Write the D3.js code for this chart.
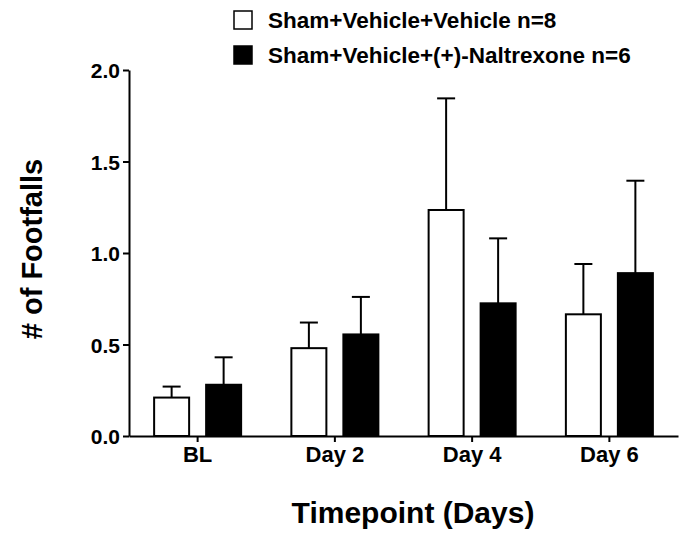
<!DOCTYPE html>
<html><head><meta charset="utf-8">
<script src="https://cdn.jsdelivr.net/npm/d3@7/dist/d3.min.js"></script>
<style>body{margin:0;background:#fff;} svg{display:block;font-family:Arial,"Liberation Sans",sans-serif;font-weight:bold;}</style>
</head><body>
<svg id="c" width="686" height="544"></svg>
<script>
const categories = ["BL", "Day 2", "Day 4", "Day 6"];
const seriesNames = ["Sham+Vehicle+Vehicle n=8", "Sham+Vehicle+(+)-Naltrexone n=6"];
const vehicleMean = [0.21, 0.48, 1.235, 0.665];
const vehicleSem  = [0.06, 0.14, 0.61, 0.275];
const naltrexoneMean = [0.28, 0.555, 0.725, 0.89];
const naltrexoneSem  = [0.15, 0.205, 0.355, 0.505];
const yTicks = [0.0, 0.5, 1.0, 1.5, 2.0];
const seriesFill = ["#ffffff", "#000000"];

const svg = d3.select("#c");
const x0 = 129, x1 = 678, yTop = 70, yBot = 436;
const x = d3.scaleBand().domain(categories).range([x0, x1]).padding(0);
const y = d3.scaleLinear().domain([0, 2]).range([yBot, yTop]);
const barW = 35, gap = 17;
const xs = d3.scaleBand().domain([0, 1]).range([-(barW + gap / 2), barW + gap / 2]).paddingInner(gap / (barW + gap));

const series = [
  {name: seriesNames[0], mean: vehicleMean, sem: vehicleSem, fill: seriesFill[0]},
  {name: seriesNames[1], mean: naltrexoneMean, sem: naltrexoneSem, fill: seriesFill[1]}
];

const g = svg.append("g");
series.forEach((s, si) => {
  categories.forEach((c, i) => {
    const cx = x(c) + x.bandwidth() / 2;
    const bx = cx + xs(si);
    const bw = xs.bandwidth();
    const mid = bx + bw / 2;
    g.append("line").attr("x1", mid).attr("x2", mid)
      .attr("y1", y(s.mean[i])).attr("y2", y(s.mean[i] + s.sem[i]))
      .attr("stroke", "#000").attr("stroke-width", 2);
    g.append("line").attr("x1", mid - 9).attr("x2", mid + 9)
      .attr("y1", y(s.mean[i] + s.sem[i])).attr("y2", y(s.mean[i] + s.sem[i]))
      .attr("stroke", "#000").attr("stroke-width", 2);
    g.append("rect").attr("x", bx).attr("width", bw)
      .attr("y", y(s.mean[i])).attr("height", yBot - y(s.mean[i]))
      .attr("fill", s.fill).attr("stroke", "#000").attr("stroke-width", 2);
  });
});

const yAxis = svg.append("g").attr("transform", `translate(${x0},0)`)
  .call(d3.axisLeft(y).tickValues(yTicks).tickFormat(d3.format(".1f")).tickSize(6).tickSizeOuter(0));
const xAxis = svg.append("g").attr("transform", `translate(0,${yBot})`)
  .call(d3.axisBottom(x).tickSize(6).tickSizeOuter(0));
[yAxis, xAxis].forEach(a => {
  a.select(".domain").attr("stroke", "#000").attr("stroke-width", 2);
  a.selectAll(".tick line").attr("stroke", "#000").attr("stroke-width", 2);
  a.selectAll(".tick text").attr("fill", "#000").style("font-weight", "bold").style("font-family", "Arial, 'Liberation Sans', sans-serif");
});
yAxis.selectAll(".tick text").style("font-size", "21px").attr("x", -9).attr("dy", "0.36em");
xAxis.selectAll(".tick text").style("font-size", "22px").attr("y", 26).attr("dy", null);

svg.append("text").attr("transform", "translate(42,249) rotate(-90)")
  .attr("text-anchor", "middle").style("font-size", "29px").text("# of Footfalls");
svg.append("text").attr("x", 413).attr("y", 523)
  .attr("text-anchor", "middle").style("font-size", "30px").text("Timepoint (Days)");

const leg = svg.append("g");
series.forEach((s, i) => {
  const ly = 11 + i * 35;
  leg.append("rect").attr("x", 234).attr("y", ly).attr("width", 18).attr("height", 18)
    .attr("fill", s.fill).attr("stroke", "#000").attr("stroke-width", 1.5);
  leg.append("text").attr("x", 268).attr("y", ly + 17).style("font-size", "22.5px").text(s.name);
});
</script>
</body></html>
